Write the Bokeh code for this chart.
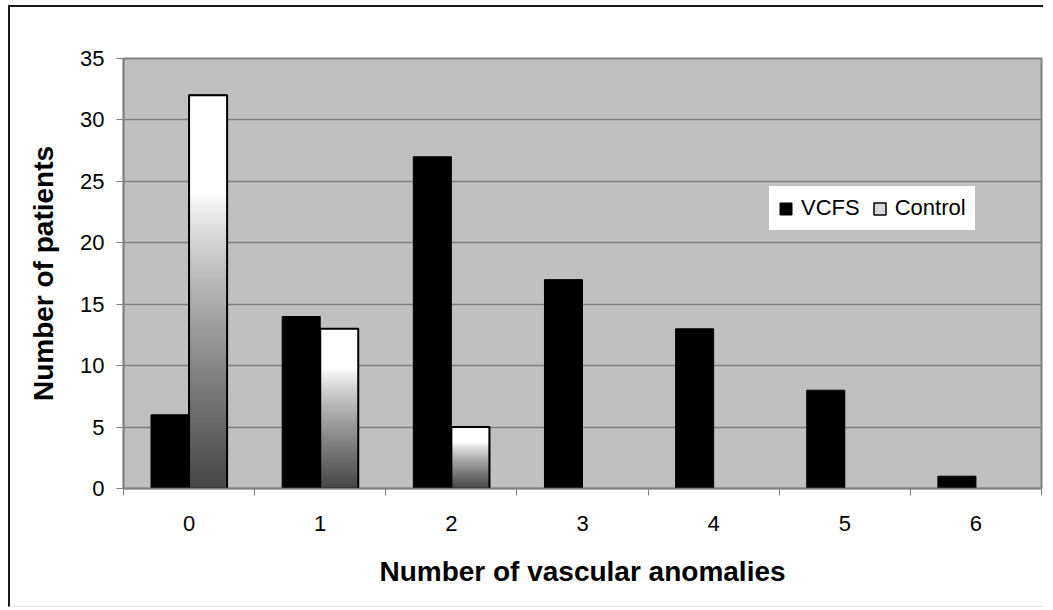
import numpy as np
from bokeh.plotting import figure
from bokeh.models import FixedTicker, Legend, LegendItem, Range1d
from bokeh.embed import file_html
from bokeh.resources import INLINE

categories = ["0", "1", "2", "3", "4", "5", "6"]
vcfs = [6, 14, 27, 17, 13, 8, 1]
control = [32, 13, 5, 0, 0, 0, 0]
y_ticks = [0, 5, 10, 15, 20, 25, 30, 35]

FONT = "Liberation Sans"
x = np.arange(len(categories), dtype=float)
bw = 0.29

p = figure(width=1035, height=602, x_range=Range1d(-0.5, 6.5), y_range=Range1d(0, 35),
           output_backend="svg", toolbar_location=None,
           min_border_left=113, min_border_right=4, min_border_top=51, min_border_bottom=121)
p.styles = {"border-left": "2px solid #1a1a1a", "border-top": "2px solid #1a1a1a",
            "border-bottom": "1px solid #e4e4e4", "margin": "5px 0 0 8px"}
p.background_fill_color = "#c0c0c0"
p.border_fill_color = "white"
p.outline_line_color = "#808080"
p.outline_line_width = 2

p.xgrid.visible = False
p.ygrid.grid_line_color = "#808080"
p.ygrid.grid_line_width = 1.5
p.ygrid.ticker = FixedTicker(ticks=y_ticks)

# VCFS bars
vr = p.quad(left=x - bw, right=x, bottom=0, top=vcfs, fill_color="black", line_color="black", line_width=1)

# Control bars: base (used for legend) + vertical gradient (white top -> dark gray bottom)
cx = np.array([xi for xi, v in zip(x, control) if v > 0])
cv = [v for v in control if v > 0]
cr = p.quad(left=cx, right=cx + bw, bottom=0, top=cv, fill_color="#d8d8d8", line_color="black", line_width=1.5)

N = 120
L, R, B, T, C = [], [], [], [], []
for xi, v in zip(cx, cv):
    edges = np.linspace(0, v, N + 1)
    for k in range(N):
        b = edges[k]
        f = 1 - (edges[k] + edges[k + 1]) / 2 / v
        if f < 0.25:
            g = 255
        else:
            g = 255 - 185 * ((f - 0.25) / 0.75) ** 0.8
        g = int(round(g))
        L.append(xi); R.append(xi + bw); B.append(b); T.append(v)
        C.append("#%02x%02x%02x" % (g, g, g))
p.quad(left=L, right=R, bottom=B, top=T, fill_color=C, line_alpha=0)
p.quad(left=cx, right=cx + bw, bottom=0, top=cv, fill_alpha=0, line_color="black", line_width=2)

# axes
xa = p.xaxis[0]
xa.ticker = FixedTicker(ticks=list(x), minor_ticks=list(np.arange(-0.5, 7.0, 1.0)))
xa.major_label_overrides = {i: c for i, c in enumerate(categories)}
xa.major_tick_out = 0
xa.major_tick_in = 0
xa.minor_tick_out = 7
xa.minor_tick_in = 0
xa.minor_tick_line_color = "#808080"
xa.axis_line_color = "#808080"
xa.axis_line_width = 1.5
xa.major_label_text_font = FONT
xa.major_label_text_font_size = "22px"
xa.major_label_text_color = "black"
xa.major_label_standoff = 20
xa.axis_label = "Number of vascular anomalies"
xa.axis_label_text_font = FONT
xa.axis_label_text_font_size = "28px"
xa.axis_label_text_font_style = "bold"
xa.axis_label_text_color = "black"
xa.axis_label_standoff = 22

ya = p.yaxis[0]
ya.ticker = FixedTicker(ticks=y_ticks)
ya.major_tick_out = 7
ya.major_tick_in = 0
ya.minor_tick_out = 0
ya.minor_tick_in = 0
ya.major_tick_line_color = "#808080"
ya.axis_line_color = "#808080"
ya.axis_line_width = 1.5
ya.major_label_text_font = FONT
ya.major_label_text_font_size = "22px"
ya.major_label_text_color = "black"
ya.major_label_standoff = 12
ya.axis_label = "Number of patients"
ya.axis_label_text_font = FONT
ya.axis_label_text_font_size = "28px"
ya.axis_label_text_font_style = "bold"
ya.axis_label_text_color = "black"
ya.axis_label_standoff = 18

legend = Legend(items=[LegendItem(label="VCFS", renderers=[vr]),
                       LegendItem(label="Control", renderers=[cr])],
                location=(645, 257), orientation="horizontal")
legend.label_text_font = FONT
legend.label_text_font_size = "22px"
legend.label_text_color = "black"
legend.glyph_width = 15
legend.glyph_height = 15
legend.label_height = 22
legend.label_standoff = 8
legend.spacing = 12
legend.padding = 9
legend.margin = 0
legend.border_line_color = "#808080"
legend.border_line_width = 1.5
legend.background_fill_color = "white"
legend.background_fill_alpha = 1
p.add_layout(legend, "center")

open("out.html", "w").write(file_html(p, INLINE))
